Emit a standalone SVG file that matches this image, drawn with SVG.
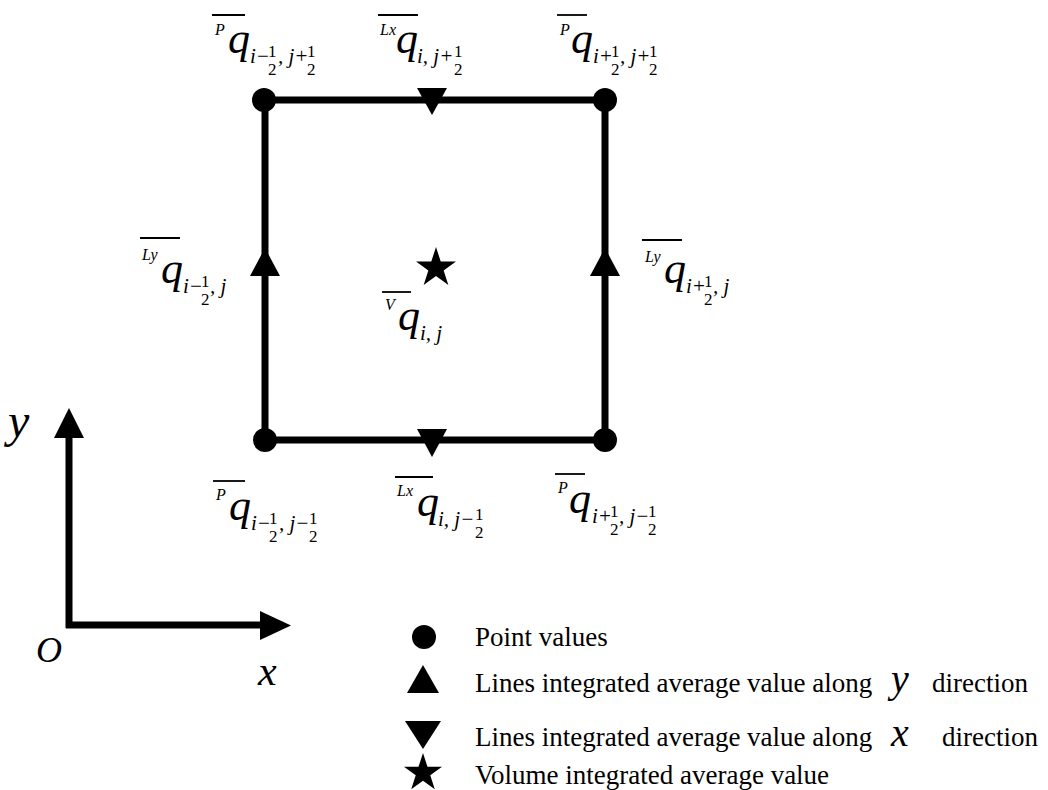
<svg xmlns="http://www.w3.org/2000/svg" xmlns:xlink="http://www.w3.org/1999/xlink" width="1048" height="790" viewBox="0 0 1048 790">
<style>
.edge{stroke:#000;stroke-width:7;fill:none;stroke-linecap:butt}
.ol{stroke:#000;stroke-width:1.8}
.q{font-family:"Liberation Serif",serif;font-style:italic;font-size:44px;fill:#000}
.sup{font-family:"Liberation Serif",serif;font-style:italic;font-size:16px;fill:#000}
.sub{font-family:"Liberation Serif",serif;font-style:italic;font-size:21px;fill:#000}
.fr{font-family:"Liberation Serif",serif;font-size:17px;fill:#000}
.leg{font-family:"Liberation Serif",serif;font-size:27px;fill:#000}
.var{font-family:"Liberation Serif",serif;font-style:italic;fill:#000}
.mk{fill:#000}
</style>
<defs>
<polygon id="star" points="0,-1 0.2245,-0.309 0.951,-0.309 0.363,0.118 0.588,0.809 0,0.382 -0.588,0.809 -0.363,0.118 -0.951,-0.309 -0.2245,-0.309"/>
</defs>
<rect width="1048" height="790" fill="#fff"/>

<g id="connectors">
<line class="edge" x1="264" y1="100" x2="605" y2="100"/>
<line class="edge" x1="265" y1="440" x2="605" y2="440"/>
<line class="edge" x1="265" y1="100" x2="265" y2="440"/>
<line class="edge" x1="605" y1="100" x2="605" y2="440"/>
<line class="edge" x1="69" y1="437" x2="69" y2="628"/>
<line class="edge" x1="66" y1="625" x2="262" y2="625"/>
<polygon class="mk" points="54,438 84,438 69,408"/>
<polygon class="mk" points="260,611 260,640 291,625.5"/>
</g>

<g id="axis-labels">
<text class="var" x="8" y="437" font-size="48">y</text>
<text class="var" x="36" y="662" font-size="36">O</text>
<text class="var" x="258" y="685" font-size="42">x</text>
</g>

<g id="node-p-tl">
<circle class="mk" cx="264" cy="100" r="12"/>
<line class="ol" x1="212" y1="15" x2="245" y2="15"/>
<text class="sup" x="215" y="35">P</text>
<text class="q" x="228" y="53">q</text>
<text class="sub" x="250" y="63">i−</text>
<text class="fr" x="268" y="57">1</text><text class="fr" x="268" y="75">2</text>
<text class="sub" x="278" y="63">, j+</text>
<text class="fr" x="307" y="57">1</text><text class="fr" x="307" y="75">2</text>
</g>

<g id="node-lx-top">
<polygon class="mk" points="417,88 447,88 432,115"/>
<line class="ol" x1="378" y1="15" x2="418" y2="15"/>
<text class="sup" x="380" y="35">Lx</text>
<text class="q" x="396" y="53">q</text>
<text class="sub" x="417" y="63">i, j+</text>
<text class="fr" x="454" y="57">1</text><text class="fr" x="454" y="75">2</text>
</g>

<g id="node-p-tr">
<circle class="mk" cx="605" cy="100" r="12"/>
<line class="ol" x1="557" y1="15" x2="587" y2="15"/>
<text class="sup" x="560" y="35">P</text>
<text class="q" x="571" y="53">q</text>
<text class="sub" x="593" y="63">i+</text>
<text class="fr" x="611" y="57">1</text><text class="fr" x="611" y="75">2</text>
<text class="sub" x="620" y="63">, j+</text>
<text class="fr" x="649" y="57">1</text><text class="fr" x="649" y="75">2</text>
</g>

<g id="node-ly-left">
<polygon class="mk" points="250,276 280,276 265,248"/>
<line class="ol" x1="140" y1="238" x2="180" y2="238"/>
<text class="sup" x="142" y="260">Ly</text>
<text class="q" x="161" y="283">q</text>
<text class="sub" x="183" y="293">i−</text>
<text class="fr" x="201" y="287">1</text><text class="fr" x="201" y="305">2</text>
<text class="sub" x="210" y="293">, j</text>
</g>

<g id="node-ly-right">
<polygon class="mk" points="590,276 620,276 605,248"/>
<line class="ol" x1="642" y1="240" x2="682" y2="240"/>
<text class="sup" x="645" y="262">Ly</text>
<text class="q" x="664" y="283">q</text>
<text class="sub" x="686" y="293">i+</text>
<text class="fr" x="704" y="287">1</text><text class="fr" x="704" y="305">2</text>
<text class="sub" x="713" y="293">, j</text>
</g>

<g id="node-v-center">
<use xlink:href="#star" href="#star" transform="translate(436,268) scale(21)"/>
<line class="ol" x1="382" y1="292" x2="411" y2="292"/>
<text class="sup" x="385" y="310">V</text>
<text class="q" x="398" y="330">q</text>
<text class="sub" x="420" y="340">i, j</text>
</g>

<g id="node-p-bl">
<circle class="mk" cx="265" cy="440" r="12"/>
<line class="ol" x1="213" y1="481" x2="245" y2="481"/>
<text class="sup" x="216" y="500">P</text>
<text class="q" x="229" y="520">q</text>
<text class="sub" x="251" y="530">i−</text>
<text class="fr" x="269" y="524">1</text><text class="fr" x="269" y="542">2</text>
<text class="sub" x="279" y="530">, j−</text>
<text class="fr" x="309" y="524">1</text><text class="fr" x="309" y="542">2</text>
</g>

<g id="node-lx-bottom">
<polygon class="mk" points="417,429 447,429 432,457"/>
<line class="ol" x1="395" y1="477" x2="433" y2="477"/>
<text class="sup" x="397" y="496">Lx</text>
<text class="q" x="417" y="516">q</text>
<text class="sub" x="438" y="526">i, j−</text>
<text class="fr" x="475" y="520">1</text><text class="fr" x="475" y="538">2</text>
</g>

<g id="node-p-br">
<circle class="mk" cx="605" cy="440" r="12"/>
<line class="ol" x1="555" y1="474" x2="585" y2="474"/>
<text class="sup" x="558" y="493">P</text>
<text class="q" x="569" y="513">q</text>
<text class="sub" x="592" y="523">i+</text>
<text class="fr" x="610" y="517">1</text><text class="fr" x="610" y="535">2</text>
<text class="sub" x="619" y="523">, j−</text>
<text class="fr" x="648" y="517">1</text><text class="fr" x="648" y="535">2</text>
</g>

<g id="legend">
<circle class="mk" cx="424" cy="637" r="12"/>
<text class="leg" x="475" y="646">Point values</text>
<polygon class="mk" points="407,693 439,693 423,665"/>
<text class="leg" x="475" y="692">Lines integrated average value along</text>
<text class="var" x="891" y="692" font-size="40">y</text>
<text class="leg" x="932" y="692">direction</text>
<polygon class="mk" points="405,721 441,721 423,749"/>
<text class="leg" x="475" y="746">Lines integrated average value along</text>
<text class="var" x="891" y="746" font-size="40">x</text>
<text class="leg" x="942" y="746">direction</text>
<use xlink:href="#star" href="#star" transform="translate(423,773) scale(20)"/>
<text class="leg" x="475" y="784">Volume integrated average value</text>
</g>
</svg>
